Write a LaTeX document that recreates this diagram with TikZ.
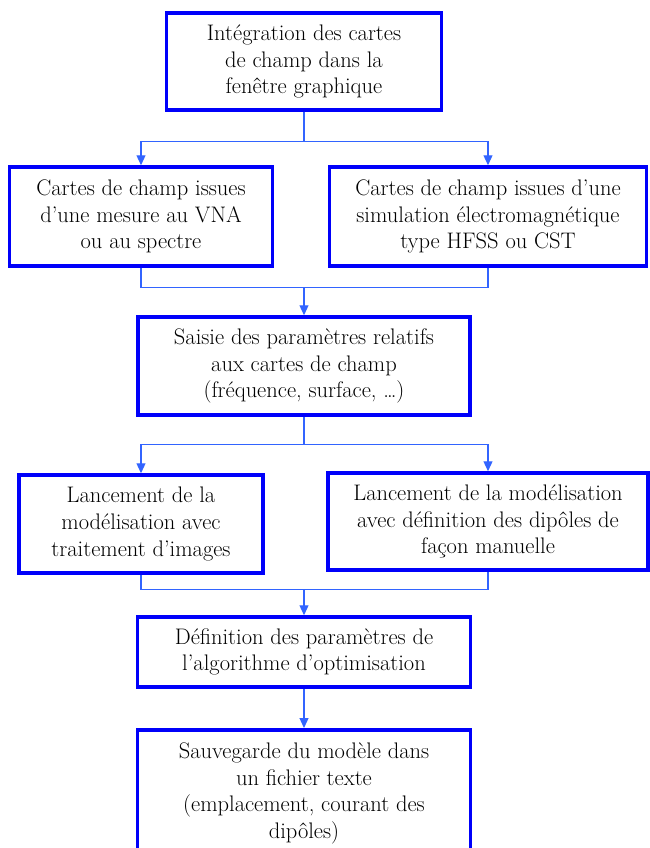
\documentclass[tikz,border=0pt]{standalone}
\usepackage{tikz}
\definecolor{boxblue}{RGB}{0,0,250}
\definecolor{linkblue}{RGB}{50,100,255}
\usetikzlibrary{arrows.meta}

\begin{document}
\begin{tikzpicture}[x=1pt,y=-1pt,
      box/.style={rectangle,draw=boxblue,line width=3.5pt,fill=white,
                  align=center,inner sep=2pt,
                  font=\fontsize{22.5}{26.7}\selectfont},
      link/.style={draw=linkblue,line width=1.2pt},
      arrowlink/.style={link,-{Triangle[length=10pt,width=9pt]}}]
    \useasboundingbox (0,0) rectangle (649,848);
    \node[box,minimum width=275pt,minimum height=97pt] (integ) at (304,61.5)
      {Intégration des cartes\\de champ dans la\\fenêtre graphique};
    \node[box,minimum width=263pt,minimum height=99pt] (mesure) at (141,216.5)
      {Cartes de champ issues\\d’une mesure au VNA\\ou au spectre};
    \node[box,minimum width=317pt,minimum height=99pt] (simul) at (488,216.5)
      {Cartes de champ issues d’une\\simulation électromagnétique\\type HFSS ou CST};
    \node[box,minimum width=332pt,minimum height=98pt] (saisie) at (304,366)
      {Saisie des paramètres relatifs\\aux cartes de champ\\(fréquence, surface, \dots)};
    \node[box,minimum width=244pt,minimum height=98pt] (traitement) at (141,524)
      {Lancement de la\\modélisation avec\\traitement d’images};
    \node[box,minimum width=320pt,minimum height=97pt] (manuel) at (488,521.5)
      {Lancement de la modélisation\\avec définition des dipôles de\\façon manuelle};
    \node[box,minimum width=333pt,minimum height=70pt] (algo) at (304,652)
      {Définition des paramètres de\\l’algorithme d’optimisation};
    \node[box,minimum width=333pt,inner ysep=13pt,anchor=north] (sauve) at (304,728)
      {Sauvegarde du modèle dans\\un fichier texte\\(emplacement, courant des\\dipôles)};
    % connecteurs
    \draw[link] (integ.south) -- ++(0,30) coordinate (c1);
    \draw[arrowlink] (c1) -| (mesure.north);
    \draw[arrowlink] (c1) -| (simul.north);
    \draw[link] (mesure.south) |- ++(163,20) coordinate (c2);
    \draw[link] (simul.south) |- (c2);
    \draw[arrowlink] (c2) -- (saisie.north);
    \draw[link] (saisie.south) -- ++(0,28) coordinate (c3);
    \draw[arrowlink] (c3) -| (traitement.north);
    \draw[arrowlink] (c3) -| (manuel.north);
    \draw[link] (traitement.south) |- ++(163,15) coordinate (c4);
    \draw[link] (manuel.south) |- (c4);
    \draw[arrowlink] (c4) -- (algo.north);
    \draw[arrowlink] (algo.south) -- (sauve.north);
\end{tikzpicture}
\end{document}
